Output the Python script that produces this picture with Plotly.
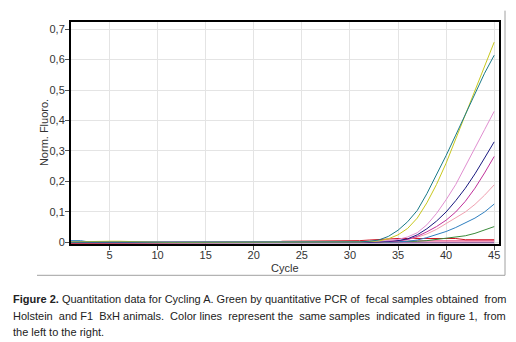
import plotly.graph_objects as go

cycles = list(range(1, 46))

teal = [0.001, 0.001, 0.001, 0.000, 0.000, 0.000, 0.000, 0.000, 0.000, 0.000,
        0.000, 0.000, 0.000, 0.000, 0.000, 0.000, 0.000, 0.000, 0.000, 0.000,
        0.000, 0.001, 0.001, 0.001, 0.001, 0.001, 0.001, 0.001, 0.002, 0.002,
        0.002, 0.004, 0.008, 0.020, 0.040, 0.068, 0.105, 0.160, 0.222, 0.285,
        0.352, 0.420, 0.490, 0.555, 0.614]
yellow = [0.002, 0.003, 0.004, 0.004, 0.004, 0.004, 0.003, 0.001, 0.000, 0.000,
          0.000, 0.000, 0.000, 0.000, 0.000, 0.000, 0.000, 0.000, 0.000, 0.000,
          0.000, 0.000, 0.001, 0.001, 0.001, 0.001, 0.001, 0.001, 0.001, 0.001,
          0.002, 0.003, 0.005, 0.012, 0.025, 0.046, 0.080, 0.130, 0.190, 0.260,
          0.340, 0.420, 0.500, 0.580, 0.657]
orchid = [0.002, 0.002, 0.002, 0.001, 0.000, 0.000, 0.000, 0.000, 0.000, 0.000,
          0.000, 0.000, 0.000, 0.000, 0.000, 0.000, 0.000, 0.000, 0.000, 0.000,
          0.000, 0.000, 0.000, 0.000, 0.000, 0.000, 0.001, 0.001, 0.001, 0.001,
          0.002, 0.003, 0.004, 0.006, 0.010, 0.018, 0.032, 0.058, 0.095, 0.140,
          0.190, 0.248, 0.310, 0.370, 0.430]
navy = [0.000, 0.000, -0.001, -0.001, -0.001, -0.001, -0.001, -0.001, -0.001, -0.001,
        -0.001, -0.001, -0.001, -0.001, -0.001, -0.001, -0.001, -0.001, -0.001, -0.001,
        -0.001, -0.001, -0.001, -0.001, -0.001, 0.000, 0.000, 0.000, 0.000, 0.000,
        0.000, 0.001, 0.002, 0.003, 0.006, 0.012, 0.025, 0.045, 0.070, 0.100,
        0.137, 0.178, 0.225, 0.277, 0.330]
magenta = [0.000, 0.000, 0.000, 0.000, 0.000, 0.000, 0.000, 0.000, 0.000, 0.000,
           0.000, 0.000, 0.000, 0.000, 0.000, 0.000, 0.000, 0.000, 0.000, 0.000,
           0.000, 0.000, 0.000, 0.000, 0.000, 0.000, 0.000, 0.000, 0.000, 0.001,
           0.001, 0.001, 0.002, 0.003, 0.005, 0.010, 0.020, 0.035, 0.052, 0.073,
           0.100, 0.135, 0.178, 0.228, 0.282]
salmon = [0.000, 0.000, 0.000, 0.000, 0.000, 0.000, 0.000, 0.000, 0.000, 0.000,
          0.000, 0.000, 0.000, 0.000, 0.000, 0.000, 0.000, 0.000, 0.000, 0.000,
          0.000, 0.000, 0.001, 0.001, 0.001, 0.001, 0.001, 0.001, 0.001, 0.002,
          0.002, 0.002, 0.003, 0.004, 0.005, 0.010, 0.017, 0.028, 0.043, 0.062,
          0.080, 0.100, 0.125, 0.155, 0.189]
blue = [0.006, 0.006, 0.001, 0.000, 0.000, 0.000, 0.000, 0.000, 0.000, 0.000,
        0.000, 0.000, 0.000, 0.000, 0.000, 0.000, 0.000, 0.000, 0.000, 0.000,
        0.000, 0.000, 0.000, 0.000, 0.000, 0.000, 0.000, 0.000, 0.000, 0.000,
        0.000, 0.000, 0.001, 0.001, 0.002, 0.004, 0.008, 0.016, 0.025, 0.036,
        0.049, 0.064, 0.080, 0.100, 0.126]
green = [0.000, 0.000, 0.000, 0.000, 0.000, 0.000, 0.000, 0.000, 0.000, 0.000,
         0.000, 0.000, 0.000, 0.000, 0.000, 0.000, 0.000, 0.000, 0.000, 0.000,
         0.000, 0.000, 0.000, 0.000, 0.000, 0.000, 0.000, 0.000, 0.000, 0.000,
         0.000, 0.001, 0.002, 0.002, 0.003, 0.003, 0.004, 0.006, 0.010, 0.014,
         0.018, 0.022, 0.030, 0.040, 0.052]
red = [-0.002, -0.002, -0.001, -0.001, -0.001, -0.001, -0.001, -0.001, -0.001, -0.001,
       -0.001, -0.001, -0.001, -0.001, -0.001, -0.001, -0.001, -0.001, -0.001, 0.000,
       0.000, 0.000, 0.004, 0.004, 0.004, 0.004, 0.004, 0.004, 0.005, 0.005,
       0.006, 0.008, 0.010, 0.012, 0.013, 0.013, 0.013, 0.014, 0.014, 0.014,
       0.013, 0.009, 0.009, 0.009, 0.009]
crimson = [-0.001, -0.001, -0.001, -0.001, -0.001, -0.001, -0.001, 0.000, 0.000, 0.000,
           0.000, 0.000, 0.000, 0.000, 0.000, 0.000, 0.000, 0.000, 0.000, 0.000,
           0.000, 0.000, 0.001, 0.001, 0.001, 0.001, 0.001, 0.002, 0.002, 0.002,
           0.003, 0.003, 0.003, 0.003, 0.004, 0.004, 0.005, 0.005, 0.005, 0.005,
           0.005, 0.005, 0.005, 0.005, 0.005]
purple = [-0.002, -0.002, -0.002, -0.002, -0.002, -0.002, -0.002, -0.002, -0.002, -0.002,
          -0.002, -0.002, -0.002, -0.002, -0.002, -0.002, -0.002, -0.002, -0.002, -0.002,
          -0.002, -0.002, -0.002, -0.002, -0.002, -0.002, -0.002, -0.002, -0.002, -0.002,
          -0.002, -0.002, -0.002, -0.001, -0.001, -0.001, -0.001, -0.001, -0.001, -0.001,
          -0.001, -0.001, -0.001, -0.001, -0.001]

series = [
    ("purple", purple, "#7a3a8a"),
    ("crimson", crimson, "#e0206a"),
    ("red", red, "#d01020"),
    ("green", green, "#3a8a3a"),
    ("blue", blue, "#2f7fc0"),
    ("salmon", salmon, "#f0a0b0"),
    ("magenta", magenta, "#c0309a"),
    ("navy", navy, "#1a1a80"),
    ("orchid", orchid, "#e08ed0"),
    ("yellow", yellow, "#c8c81e"),
    ("teal", teal, "#1a7a88"),
]

ytick_vals = [0, 0.1, 0.2, 0.3, 0.4, 0.5, 0.6, 0.7]
ytick_text = ["0", "0,1", "0,2", "0,3", "0,4", "0,5", "0,6", "0,7"]
xtick_vals = [5, 10, 15, 20, 25, 30, 35, 40, 45]

# page has an 8px body margin; figure is sized/offset to compensate
OFF = 8
W, H = 516 - OFF, 342 - OFF
PL, PR, PT, PB = 71, 499, 19.5, 244.3   # plot box in page pixels
L, R, T, B = PL - OFF, W - (PR - OFF), PT - OFF, H - (PB - OFF)
PW, PH = PR - PL, PB - PT


def px(xp):
    return (xp - PL) / PW


def py(yp):
    return (PB - yp) / PH


fig = go.Figure()
for name, vals, col in series:
    fig.add_trace(go.Scatter(x=cycles, y=vals, mode="lines", name=name,
                             line=dict(color=col, width=1)))

fig.update_layout(
    width=W, height=H,
    margin=dict(l=L, r=R, t=T, b=B, pad=0),
    paper_bgcolor="white", plot_bgcolor="white",
    showlegend=False,
    font=dict(family="Liberation Sans, Arial, sans-serif", size=11, color="#333333"),
)
fig.update_xaxes(range=[1, 45.5], tickvals=xtick_vals, showgrid=True,
                 gridcolor="#e4e4e4", gridwidth=1, zeroline=False,
                 showline=True, linecolor="black", linewidth=2, mirror=True,
                 ticks="outside", ticklen=4, tickcolor="#555",
                 ticklabelstandoff=-4)
fig.update_yaxes(range=[-0.005, 0.723], tickvals=ytick_vals, ticktext=ytick_text,
                 showgrid=True, gridcolor="#e4e4e4", gridwidth=1, zeroline=False,
                 showline=True, linecolor="black", linewidth=2, mirror=True,
                 ticks="outside", ticklen=4, tickcolor="#555",
                 ticklabelstandoff=-2)

# axis titles
fig.add_annotation(text="Cycle", xref="paper", yref="paper", x=px(285), y=py(268.5),
                   xanchor="center", yanchor="middle", showarrow=False,
                   font=dict(size=11, color="#333333"))
fig.add_annotation(text="Norm. Fluoro.", xref="paper", yref="paper", x=px(44), y=py(132),
                   xanchor="center", yanchor="middle", showarrow=False, textangle=-90,
                   font=dict(size=11, color="#333333"))

# outer gray frame (right and bottom)
fig.add_shape(type="line", xref="paper", yref="paper", x0=px(505), x1=px(505),
              y0=py(276), y1=py(OFF), line=dict(color="#a0a0a0", width=1))
fig.add_shape(type="line", xref="paper", yref="paper", x0=px(37), x1=px(505),
              y0=py(276), y1=py(276), line=dict(color="#a0a0a0", width=1))

NB = "\u00a0"
cap1 = ("<b>Figure 2.</b> Quantitation data for Cycling A. Green by quantitative PCR of" + NB
        + " fecal samples obtained" + NB + " from")
cap2 = ("Holstein" + NB + " and F1" + NB + " BxH animals." + NB + " Color lines" + NB
        + " represent the" + NB + " same samples" + NB + " indicated" + NB
        + " in figure 1," + NB + " from")
cap3 = "the left to the right."
for i, txt in enumerate([cap1, cap2, cap3]):
    fig.add_annotation(text=txt, xref="paper", yref="paper",
                       x=px(11), y=py(300 + 16.8 * i),
                       xanchor="left", yanchor="middle", showarrow=False,
                       font=dict(size=11, color="#222222",
                                 family="Liberation Sans, Arial, sans-serif"))

fig.write_html("out.html")
